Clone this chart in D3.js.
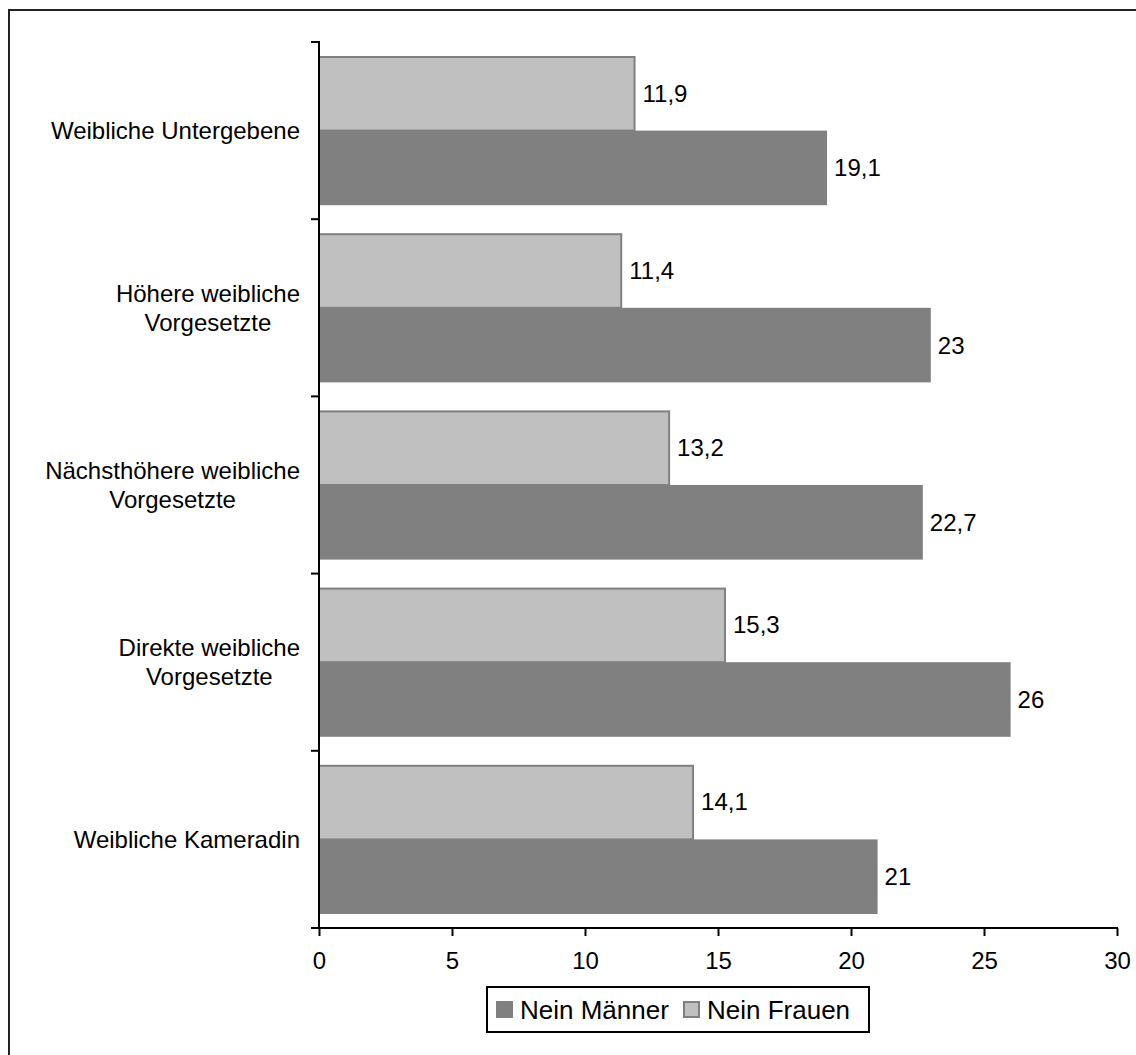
<!DOCTYPE html>
<html><head><meta charset="utf-8">
<script src="https://cdn.jsdelivr.net/npm/d3@7"></script>
<style>html,body{margin:0;padding:0;background:#fff;} svg{display:block;font-family:Arial,"Liberation Sans",sans-serif;}</style>
</head><body>
<svg id="c" width="1136" height="1055"></svg>
<script>
const categories = [["Weibliche Untergebene"],["Höhere weibliche","Vorgesetzte"],["Nächsthöhere weibliche","Vorgesetzte"],["Direkte weibliche","Vorgesetzte"],["Weibliche Kameradin"]];
const seriesNames = ["Nein Männer","Nein Frauen"];
const maenner = [19.1, 23, 22.7, 26, 21];
const frauen = [11.9, 11.4, 13.2, 15.3, 14.1];
const xTicks = [0,5,10,15,20,25,30];
const fmt = v => String(v).replace(".", ",");

(function(){
const svg = d3.select("#c");
const FS = 24, LFS = 26;
svg.append("rect").attr("x",9).attr("y",10).attr("width",1140).attr("height",1060)
  .attr("fill","#fff").attr("stroke","#222").attr("stroke-width",2);

const pLeft=319, pRight=1117, pTop=42, pBottom=928;
const catKeys = categories.map(c=>c.join(" "));
const x = d3.scaleLinear().domain([0,30]).range([pLeft,pRight]);
const y = d3.scaleBand().domain(catKeys).range([pTop,pBottom]).paddingInner(0.158).paddingOuter(0.079);
const sub = d3.scaleBand().domain(["Nein Frauen","Nein Männer"]).range([0,y.bandwidth()]);

const data = catKeys.map((k,i)=>({k, f:frauen[i], m:maenner[i]}));
const g = svg.append("g");
g.selectAll("rect.m").data(data).join("rect").attr("class","m")
  .attr("x",x(0)).attr("y",d=>y(d.k)+sub("Nein Männer"))
  .attr("width",d=>x(d.m)-x(0)).attr("height",sub.bandwidth())
  .attr("fill","#808080");
g.selectAll("rect.f").data(data).join("rect").attr("class","f")
  .attr("x",x(0)).attr("y",d=>y(d.k)+sub("Nein Frauen")+1)
  .attr("width",d=>x(d.f)-x(0)-1).attr("height",sub.bandwidth()-1)
  .attr("fill","#c0c0c0").attr("stroke","#808080").attr("stroke-width",2);

g.selectAll("text.vf").data(data).join("text").attr("class","vf")
  .attr("x",d=>x(d.f)+7).attr("y",d=>y(d.k)+sub("Nein Frauen")+sub.bandwidth()/2)
  .attr("dy","0.35em").attr("font-size",FS).text(d=>fmt(d.f));
g.selectAll("text.vm").data(data).join("text").attr("class","vm")
  .attr("x",d=>x(d.m)+7).attr("y",d=>y(d.k)+sub("Nein Männer")+sub.bandwidth()/2)
  .attr("dy","0.35em").attr("font-size",FS).text(d=>fmt(d.m));

const xa = svg.append("g").attr("transform",`translate(0,${pBottom})`)
  .call(d3.axisBottom(x).tickValues(xTicks).tickSize(8).tickSizeOuter(0).tickPadding(16).tickFormat(d=>d));
xa.select(".domain").remove();
xa.selectAll(".tick line").attr("stroke","#000").attr("stroke-width",2);
xa.selectAll(".tick text").attr("font-size",FS).attr("font-family","Arial,'Liberation Sans',sans-serif").attr("fill","#000");
svg.append("line").attr("x1",pLeft-8).attr("x2",pRight+1).attr("y1",pBottom).attr("y2",pBottom).attr("stroke","#000").attr("stroke-width",2);

svg.append("line").attr("x1",pLeft).attr("x2",pLeft).attr("y1",pTop-1).attr("y2",pBottom).attr("stroke","#000").attr("stroke-width",2);
const yt = catKeys.map(k=>y(k)-y.step()*y.paddingOuter()).concat([pBottom]);
svg.selectAll("line.yt").data(yt).join("line").attr("class","yt").attr("x1",pLeft-8).attr("x2",pLeft)
  .attr("y1",d=>d).attr("y2",d=>d).attr("stroke","#000").attr("stroke-width",2);

const lh = 29;
categories.forEach((lines,i)=>{
  const cy = y(catKeys[i]) + y.bandwidth()/2;
  const t = svg.append("text").attr("font-size",FS).attr("text-anchor","middle");
  const spans = lines.map((l,j)=>t.append("tspan").attr("y", cy + (j-(lines.length-1)/2)*lh).attr("dy","0.35em").text(l));
  const w = d3.max(spans, s=>s.node().getComputedTextLength());
  spans.forEach(s=>s.attr("x", 300 - w/2));
});

const lg = svg.append("g");
lg.append("rect").attr("x",487).attr("y",987).attr("width",382).attr("height",45)
  .attr("fill","#fff").attr("stroke","#000").attr("stroke-width",2);
const lx = [496, 683];
const lcol = ["#808080","#c0c0c0"];
seriesNames.forEach((n,i)=>{
  lg.append("rect").attr("x",lx[i]+1).attr("y",1002).attr("width",15).attr("height",15)
    .attr("fill",lcol[i]).attr("stroke","#808080").attr("stroke-width",2);
  lg.append("text").attr("x",lx[i]+24).attr("y",1009.5).attr("dy","0.35em").attr("font-size",LFS).text(n);
});
})();
</script>
</body></html>
